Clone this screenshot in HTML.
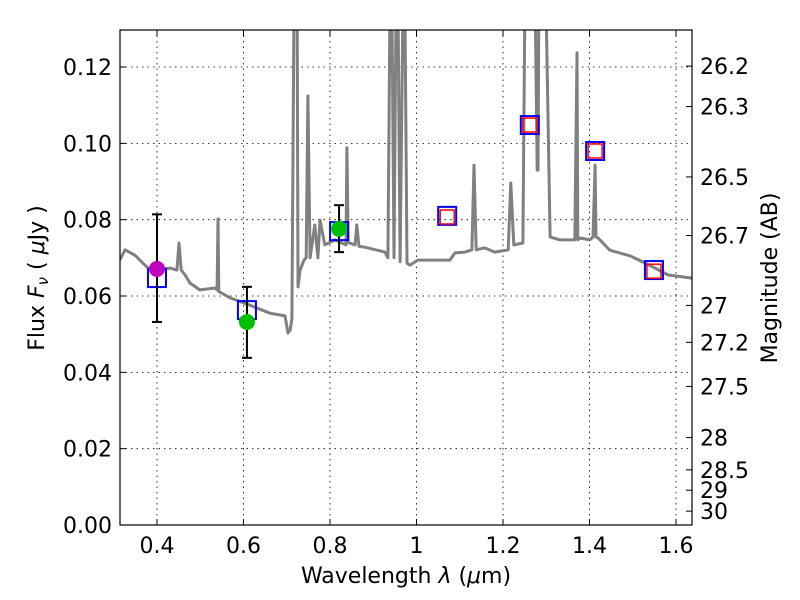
<!DOCTYPE html>
<html><head><meta charset="utf-8"><style>
html,body{margin:0;padding:0;background:#fff}
svg{display:block;font-family:"DejaVu Sans","Liberation Sans",sans-serif}
</style></head><body>
<svg id="chart" width="800" height="600" viewBox="0 0 800 600">
<rect width="800" height="600" fill="#fff"/>
<g id="grid"></g>
<g id="plot"></g>
<rect x="120" y="30" width="572" height="495" fill="none" stroke="#000" stroke-width="1.2"/>
<g id="axes"></g>
<text x="406" y="583" font-size="22" text-anchor="middle">Wavelength  <tspan font-style="italic">λ</tspan> (<tspan font-style="italic">μ</tspan>m)</text>
<text transform="translate(44,278) rotate(-90)" font-size="22" text-anchor="middle">Flux  <tspan font-style="italic">F</tspan><tspan font-style="italic" font-size="15" dy="4">ν</tspan><tspan dy="-4">  ( </tspan><tspan font-style="italic">μ</tspan>Jy )</text>
<text transform="translate(777,278) rotate(-90)" font-size="22" text-anchor="middle">Magnitude (AB)</text>
</svg>
<script>
const specLam=[0.314,0.326,0.349,0.372,0.384,0.430,0.446,0.451,0.456,0.465,0.476,0.499,0.534,0.539,0.541,0.543,0.569,0.615,0.661,0.696,0.703,0.708,0.712,0.717,0.719,0.724,0.726,0.731,0.740,0.745,0.749,0.754,0.765,0.772,0.777,0.788,0.812,0.837,0.839,0.842,0.858,0.862,0.867,0.881,0.927,0.934,0.939,0.943,0.948,0.953,0.957,0.962,0.969,0.973,0.978,0.985,1.003,1.031,1.077,1.089,1.112,1.128,1.133,1.138,1.158,1.181,1.212,1.218,1.225,1.246,1.251,1.256,1.274,1.279,1.281,1.283,1.288,1.299,1.309,1.332,1.366,1.371,1.373,1.378,1.401,1.408,1.413,1.415,1.420,1.447,1.494,1.540,1.582,1.637];
const specFlux=[0.0694,0.0721,0.0707,0.0681,0.0668,0.0673,0.0668,0.0739,0.0668,0.0655,0.0634,0.0616,0.0621,0.0616,0.0802,0.0612,0.0595,0.0576,0.0555,0.0548,0.0503,0.0511,0.0540,0.1400,0.1400,0.1400,0.0624,0.0668,0.0694,0.0700,0.1124,0.0700,0.0786,0.0700,0.0799,0.0734,0.0747,0.0734,0.0988,0.0740,0.0734,0.0786,0.0730,0.0728,0.0715,0.0700,0.1400,0.1400,0.0700,0.1400,0.1400,0.0690,0.1400,0.1400,0.0686,0.0681,0.0694,0.0694,0.0694,0.0713,0.0715,0.0721,0.0943,0.0721,0.0726,0.0715,0.0721,0.0896,0.0734,0.0739,0.1400,0.1400,0.1400,0.0930,0.0930,0.1400,0.1400,0.1400,0.0755,0.0747,0.0747,0.1237,0.0747,0.0752,0.0747,0.0755,0.0943,0.0755,0.0752,0.0720,0.0705,0.0680,0.0655,0.0647];
const photLam=[0.400,0.608,0.821];
const photFlux=[0.0671,0.0532,0.0776];
const photErrHi=[0.0814,0.0624,0.0838];
const photErrLo=[0.0532,0.0438,0.0715];
const photColor=["#bf00bf","#00bf00","#00bf00"];
const modelLam=[0.400,0.608,0.821,1.071,1.262,1.413,1.549];
const modelFlux=[0.0647,0.0563,0.0770,0.0810,0.1048,0.0980,0.0668];
const redLam=[1.071,1.262,1.413,1.549];
const redFlux=[0.0807,0.1048,0.0980,0.0665];
const xTicks=[0.4,0.6,0.8,1.0,1.2,1.4,1.6];
const xTickLabels=["0.4","0.6","0.8","1","1.2","1.4","1.6"];
const yTicks=[0,0.02,0.04,0.06,0.08,0.10,0.12];
const yTickLabels=["0.00","0.02","0.04","0.06","0.08","0.10","0.12"];
const magTicks=[26.2,26.3,26.5,26.7,27,27.2,27.5,28,28.5,29,30];
const magLabels=["26.2","26.3","26.5","26.7","27","27.2","27.5","28","28.5","29","30"];

const X0=120,X1=692,Y0=30,Y1=525,L0=0.3145,L1=1.637,F0=0,F1=0.1297;
const xs=v=>X0+(v-L0)/(L1-L0)*(X1-X0);
const ys=v=>Y1-(v-F0)/(F1-F0)*(Y1-Y0);
const NS="http://www.w3.org/2000/svg";
function mk(tag,attrs,parent,txt){const e=document.createElementNS(NS,tag);for(const k in attrs)e.setAttribute(k,attrs[k]);if(txt!==undefined)e.textContent=txt;parent.appendChild(e);return e;}
const grid=document.getElementById('grid'),plot=document.getElementById('plot'),axes=document.getElementById('axes');
const cp=mk('clipPath',{id:'clip'},document.getElementById('chart'));mk('rect',{x:X0,y:Y0,width:X1-X0,height:Y1-Y0},cp);
plot.setAttribute('clip-path','url(#clip)');
xTicks.forEach((t,i)=>{const x=xs(t);
 const g=mk('line',{x1:x,x2:x,y1:Y0,y2:Y1,stroke:'#000','stroke-width':0.8,'stroke-dasharray':'1.5,4'},grid);
 
 mk('line',{x1:x,x2:x,y1:Y1,y2:Y1-6,stroke:'#000'},axes);mk('line',{x1:x,x2:x,y1:Y0,y2:Y0+6,stroke:'#000'},axes);
 const l=mk('text',{x:x,y:Y1+28,'font-size':22,'text-anchor':'middle'},axes,xTickLabels[i]);
 });
yTicks.forEach((t,i)=>{const y=ys(t);
 const g=mk('line',{x1:X0,x2:X1,y1:y,y2:y,stroke:'#000','stroke-width':0.8,'stroke-dasharray':'1.5,4'},grid);
 
 mk('line',{x1:X0,x2:X0+6,y1:y,y2:y,stroke:'#000'},axes);
 const l=mk('text',{x:X0-8,y:y+8,'font-size':22,'text-anchor':'end'},axes,yTickLabels[i]);
 });
magTicks.forEach((m,i)=>{const f=Math.pow(10,(23.9-m)/2.5);const y=ys(f);
 mk('line',{x1:X1,x2:X1-6,y1:y,y2:y,stroke:'#000'},axes);
 const l=mk('text',{x:X1+8,y:y+8,'font-size':22,'text-anchor':'start'},axes,magLabels[i]);
 });
const pts=specLam.map((l,i)=>xs(l).toFixed(1)+','+ys(specFlux[i]).toFixed(1)).join(' ');
const sp=mk('polyline',{points:pts,fill:'none',stroke:'#808080','stroke-width':3,'stroke-linejoin':'round'},plot);

modelLam.forEach((l,i)=>{const x=xs(l),y=ys(modelFlux[i]);
 const r=mk('rect',{x:x-9,y:y-9,width:18,height:18,fill:'none',stroke:'#0000ff','stroke-width':2},plot);
 });
redLam.forEach((l,i)=>{const x=xs(l),y=ys(redFlux[i]);
 const r=mk('rect',{x:x-7,y:y-7,width:14,height:14,fill:'none',stroke:'#ff0000','stroke-width':1.5},plot);
 });
photLam.forEach((l,i)=>{const x=xs(l);
 const e=mk('g',{},plot);
 
 mk('line',{x1:x,x2:x,y1:ys(photErrHi[i]),y2:ys(photErrLo[i]),stroke:'#000','stroke-width':2},e);
 mk('line',{x1:x-5,x2:x+5,y1:ys(photErrHi[i]),y2:ys(photErrHi[i]),stroke:'#000','stroke-width':2},e);
 mk('line',{x1:x-5,x2:x+5,y1:ys(photErrLo[i]),y2:ys(photErrLo[i]),stroke:'#000','stroke-width':2},e);
 const c=mk('circle',{cx:x,cy:ys(photFlux[i]),r:8,fill:photColor[i]},plot);
 });
</script>
</body></html>
